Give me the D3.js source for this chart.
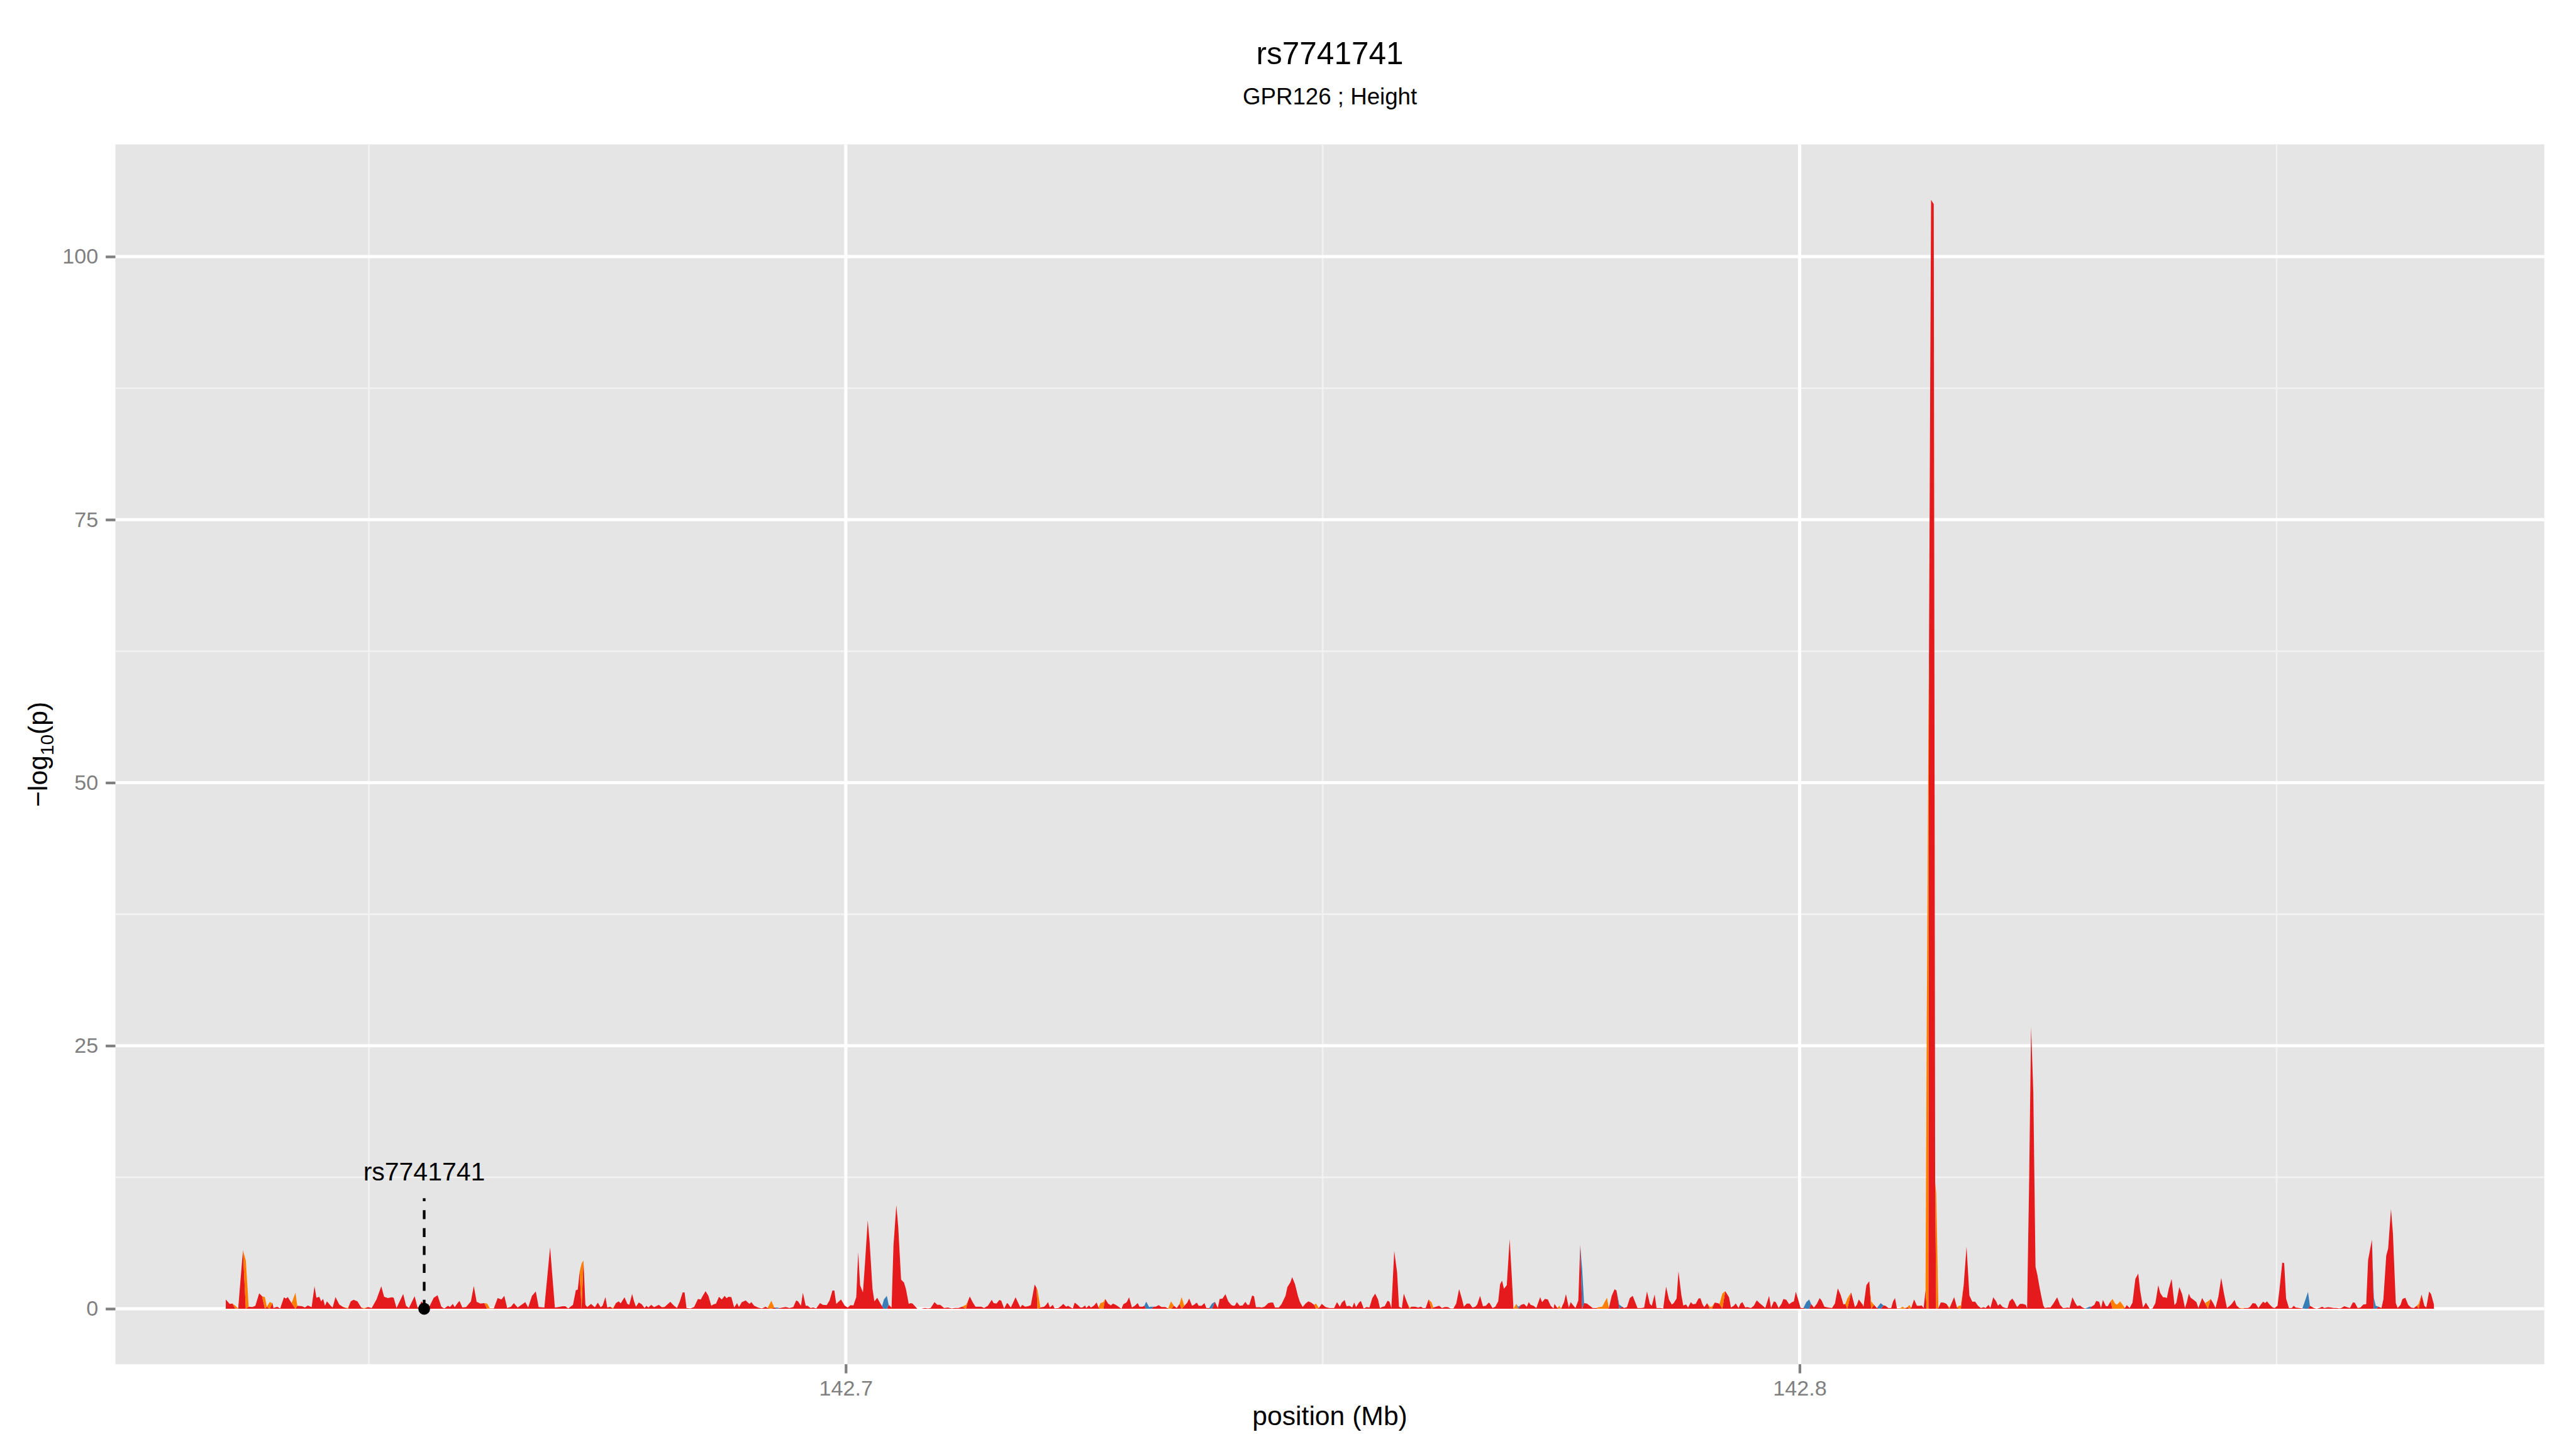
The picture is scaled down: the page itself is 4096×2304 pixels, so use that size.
<!DOCTYPE html>
<html>
<head>
<meta charset="utf-8">
<script src="https://cdn.jsdelivr.net/npm/d3@7"></script>
<style>
  body { margin: 0; background: #fff; }
  svg { display: block; }
</style>
</head>
<body>
<div id="chart"></div>
<script>
// ---- data ----
const plotTitle = 'rs7741741';
const plotSubtitle = 'GPR126 ; Height';
const xLabel = 'position (Mb)';

// SNP position (Mb) and -log10(p)
const positionMb = [
  // 142.635 - 142.693
  142.6350, 142.6354, 142.6357, 142.6360, 142.6363, 142.6368, 142.6371, 142.6374, 142.6378, 142.6381,
  142.6385, 142.6388, 142.6391, 142.6393, 142.6396, 142.6399, 142.6400, 142.6404, 142.6407, 142.6411,
  142.6413, 142.6415, 142.6419, 142.6423, 142.6425, 142.6430, 142.6433, 142.6436, 142.6440, 142.6443,
  142.6445, 142.6448, 142.6450, 142.6452, 142.6454, 142.6456, 142.6460, 142.6462, 142.6465, 142.6469,
  142.6473, 142.6478, 142.6481, 142.6484, 142.6488, 142.6492, 142.6495, 142.6499, 142.6503, 142.6508,
  142.6513, 142.6516, 142.6520, 142.6524, 142.6526, 142.6529, 142.6536, 142.6539, 142.6542, 142.6548,
  142.6551, 142.6553, 142.6555, 142.6559, 142.6563, 142.6568, 142.6572, 142.6576, 142.6579, 142.6583,
  142.6585, 142.6588, 142.6590, 142.6593, 142.6595, 142.6598, 142.6602, 142.6607, 142.6610, 142.6613,
  142.6617, 142.6621, 142.6624, 142.6627, 142.6631, 142.6635, 142.6639, 142.6642, 142.6645, 142.6649,
  142.6652, 142.6656, 142.6660, 142.6664, 142.6667, 142.6671, 142.6675, 142.6678, 142.6684, 142.6690,
  142.6695, 142.6699, 142.6703, 142.6706, 142.6709, 142.6714, 142.6717, 142.6719, 142.6721, 142.6723,
  142.6725, 142.6727, 142.6729, 142.6733, 142.6735, 142.6737, 142.6740, 142.6743, 142.6745, 142.6748,
  142.6750, 142.6753, 142.6756, 142.6759, 142.6762, 142.6764, 142.6768, 142.6771, 142.6773, 142.6776,
  142.6778, 142.6780, 142.6783, 142.6786, 142.6789, 142.6791, 142.6793, 142.6796, 142.6799, 142.6802,
  142.6804, 142.6807, 142.6810, 142.6816, 142.6820, 142.6823, 142.6826, 142.6829, 142.6831, 142.6833,
  142.6837, 142.6841, 142.6845, 142.6848, 142.6850, 142.6853, 142.6856, 142.6859, 142.6861, 142.6864,
  142.6867, 142.6870, 142.6873, 142.6875, 142.6877, 142.6880, 142.6883, 142.6886, 142.6888, 142.6891,
  142.6895, 142.6899, 142.6901, 142.6904, 142.6908, 142.6912, 142.6916, 142.6918, 142.6922, 142.6925,
  142.6928,
  // 142.693 - 142.750
  142.6931, 142.6937, 142.6941, 142.6945, 142.6948, 142.6950, 142.6953, 142.6955, 142.6958, 142.6960,
  142.6963, 142.6966, 142.6969, 142.6973, 142.6976, 142.6980, 142.6983, 142.6986, 142.6988, 142.6990,
  142.6995, 142.6999, 142.7002, 142.7005, 142.7008, 142.7011, 142.7013, 142.7015, 142.7018, 142.7020,
  142.7023, 142.7025, 142.7028, 142.7030, 142.7033, 142.7036, 142.7038, 142.7040, 142.7043, 142.7045,
  142.7048, 142.7050, 142.7053, 142.7055, 142.7058, 142.7061, 142.7063, 142.7066, 142.7068, 142.7070,
  142.7073, 142.7075, 142.7079, 142.7083, 142.7086, 142.7089, 142.7093, 142.7096, 142.7099, 142.7103,
  142.7107, 142.7111, 142.7114, 142.7118, 142.7122, 142.7126, 142.7128, 142.7130, 142.7133, 142.7136,
  142.7139, 142.7142, 142.7145, 142.7149, 142.7153, 142.7155, 142.7158, 142.7161, 142.7163, 142.7166,
  142.7169, 142.7170, 142.7173, 142.7175, 142.7178, 142.7180, 142.7183, 142.7185, 142.7188, 142.7191,
  142.7194, 142.7198, 142.7200, 142.7201, 142.7204, 142.7208, 142.7210, 142.7212, 142.7214, 142.7217,
  142.7219, 142.7223, 142.7226, 142.7228, 142.7231, 142.7233, 142.7236, 142.7238, 142.7240, 142.7243,
  142.7246, 142.7248, 142.7251, 142.7252, 142.7255, 142.7257, 142.7260, 142.7263, 142.7265, 142.7267,
  142.7270, 142.7272, 142.7275, 142.7278, 142.7280, 142.7283, 142.7286, 142.7289, 142.7291, 142.7294,
  142.7295, 142.7297, 142.7300, 142.7303, 142.7306, 142.7308, 142.7311, 142.7313, 142.7315, 142.7318,
  142.7320, 142.7323, 142.7325, 142.7328, 142.7331, 142.7335, 142.7338, 142.7341, 142.7344, 142.7347,
  142.7350, 142.7352, 142.7355, 142.7358, 142.7360, 142.7363, 142.7365, 142.7368, 142.7370, 142.7373,
  142.7376, 142.7378, 142.7381, 142.7384, 142.7387, 142.7390, 142.7392, 142.7395, 142.7398, 142.7401,
  142.7404, 142.7406, 142.7408, 142.7410, 142.7413, 142.7416, 142.7419, 142.7421, 142.7423, 142.7426,
  142.7428, 142.7430, 142.7434, 142.7436, 142.7439, 142.7443, 142.7446, 142.7448, 142.7450, 142.7454,
  142.7457, 142.7461, 142.7463, 142.7466, 142.7468, 142.7471, 142.7474, 142.7476, 142.7479, 142.7482,
  142.7485, 142.7488, 142.7491, 142.7493, 142.7496, 142.7499, 142.7503,
  // 142.750 - 142.808
  142.7507, 142.7512, 142.7515, 142.7518, 142.7520, 142.7523, 142.7525, 142.7528, 142.7531, 142.7533,
  142.7535, 142.7538, 142.7540, 142.7543, 142.7546, 142.7549, 142.7552, 142.7555, 142.7558, 142.7560,
  142.7563, 142.7565, 142.7568, 142.7570, 142.7572, 142.7575, 142.7578, 142.7580, 142.7583, 142.7585,
  142.7588, 142.7591, 142.7593, 142.7597, 142.7600, 142.7603, 142.7605, 142.7608, 142.7611, 142.7614,
  142.7616, 142.7619, 142.7622, 142.7625, 142.7628, 142.7631, 142.7634, 142.7637, 142.7640, 142.7643,
  142.7646, 142.7648, 142.7651, 142.7654, 142.7657, 142.7660, 142.7662, 142.7665, 142.7668, 142.7671,
  142.7674, 142.7675, 142.7678, 142.7681, 142.7684, 142.7686, 142.7688, 142.7690, 142.7693, 142.7696,
  142.7698, 142.7700, 142.7703, 142.7705, 142.7708, 142.7711, 142.7714, 142.7716, 142.7718, 142.7721,
  142.7724, 142.7728, 142.7730, 142.7733, 142.7736, 142.7739, 142.7742, 142.7743, 142.7746, 142.7748,
  142.7750, 142.7753, 142.7755, 142.7758, 142.7760, 142.7763, 142.7765, 142.7768, 142.7770, 142.7772,
  142.7774, 142.7777, 142.7780, 142.7783, 142.7787, 142.7789, 142.7793, 142.7796, 142.7798, 142.7800,
  142.7803, 142.7806, 142.7808, 142.7811, 142.7814, 142.7816, 142.7819, 142.7822, 142.7825, 142.7828,
  142.7830, 142.7834, 142.7837, 142.7840, 142.7843, 142.7845, 142.7848, 142.7850, 142.7854, 142.7857,
  142.7860, 142.7863, 142.7866, 142.7868, 142.7871, 142.7873, 142.7876, 142.7878, 142.7881, 142.7883,
  142.7886, 142.7888, 142.7891, 142.7894, 142.7896, 142.7898, 142.7900, 142.7903, 142.7906, 142.7908,
  142.7911, 142.7914, 142.7916, 142.7919, 142.7922, 142.7926, 142.7928, 142.7931, 142.7933, 142.7936,
  142.7938, 142.7940, 142.7943, 142.7945, 142.7949, 142.7952, 142.7955, 142.7958, 142.7961, 142.7964,
  142.7968, 142.7970, 142.7973, 142.7975, 142.7978, 142.7981, 142.7983, 142.7986, 142.7989, 142.7992,
  142.7994, 142.7996, 142.7998, 142.8001, 142.8004, 142.8007, 142.8010, 142.8012, 142.8015, 142.8018,
  142.8021, 142.8023, 142.8026, 142.8030, 142.8034, 142.8037, 142.8040, 142.8043, 142.8046, 142.8048,
  142.8050, 142.8054, 142.8058, 142.8060, 142.8062, 142.8066, 142.8067, 142.8070, 142.8073, 142.8075,
  142.8078, 142.8081,
  // 142.808 - 142.867
  142.8085, 142.8088, 142.8090, 142.8093, 142.8096, 142.8098, 142.8100, 142.8102, 142.8105, 142.8108,
  142.8110, 142.8113, 142.8115, 142.8117, 142.8120, 142.8123, 142.8126, 142.8128, 142.8130, 142.8132,
  142.81333, 142.81342, 142.8135, 142.81356, 142.81378, 142.81406, 142.81421, 142.81432, 142.81455, 142.8148,
  142.8151, 142.8154, 142.8157, 142.8159, 142.8162, 142.8165, 142.8167, 142.8169, 142.8172, 142.8175,
  142.8178, 142.8181, 142.8184, 142.8187, 142.8190, 142.8193, 142.8195, 142.8198, 142.8200, 142.8203,
  142.8206, 142.8208, 142.8210, 142.8213, 142.8216, 142.8218, 142.8220, 142.8223, 142.8225, 142.8228,
  142.8231, 142.8234, 142.8237, 142.82385, 142.82406, 142.82427, 142.8245, 142.82473, 142.82493, 142.82516,
  142.82538, 142.82555, 142.8257, 142.8260, 142.8263, 142.8266, 142.8270, 142.8273, 142.8276, 142.8278,
  142.8281, 142.8283, 142.8286, 142.8289, 142.8291, 142.8294, 142.8296, 142.8299, 142.8302, 142.8304,
  142.8306, 142.8309, 142.8311, 142.8314, 142.8316, 142.8318, 142.8321, 142.8323, 142.8326, 142.8328,
  142.8331, 142.8333, 142.8336, 142.8338, 142.8341, 142.8343, 142.8346, 142.8349, 142.8352, 142.8355,
  142.8357, 142.8360, 142.8363, 142.8367, 142.8370, 142.8373, 142.8376, 142.8378, 142.8381, 142.8383,
  142.8385, 142.8387, 142.8390, 142.8393, 142.8395, 142.8398, 142.8401, 142.8404, 142.8406, 142.8408,
  142.8410, 142.8413, 142.8416, 142.8418, 142.8420, 142.8422, 142.8425, 142.8428, 142.8431, 142.8434,
  142.8436, 142.8439, 142.8442, 142.8445, 142.8448, 142.8451, 142.8453, 142.8456, 142.8458, 142.8461,
  142.8464, 142.8467, 142.8470, 142.8472, 142.8475, 142.8478, 142.8481, 142.8484, 142.8486, 142.8488,
  142.8490, 142.8493, 142.8496, 142.8498, 142.8501, 142.8503, 142.8506, 142.8508, 142.8510, 142.8513,
  142.8516, 142.8518, 142.8520, 142.8524, 142.8527, 142.8530, 142.8533, 142.8535, 142.8539, 142.8542,
  142.8545, 142.8548, 142.8550, 142.8554, 142.8557, 142.8560, 142.8563, 142.8566, 142.8568, 142.8571,
  142.8574, 142.8577, 142.8580, 142.8582, 142.8585, 142.8588, 142.8591, 142.8594, 142.8596, 142.8600,
  142.8602, 142.8604, 142.8607, 142.8610, 142.8612, 142.8615, 142.8617, 142.8620, 142.8622, 142.8625,
  142.8627, 142.8630, 142.8632, 142.8635, 142.8638, 142.8641, 142.8644, 142.8647, 142.8649, 142.8652,
  142.8655, 142.8657, 142.8660, 142.8662, 142.8665
];

const logP = [
  // 142.635 - 142.693
  0.88, 0.46, 0.5, 0.29, 0.03, 5.56, 4.6, 0.2, 0.17, 0.29,
  1.46, 1.2, 1.1, 0.2, 0.63, 0.54, 0.07, 0.2, 0.03, 1.09,
  0.97, 1.1, 0.54, 1.53, 0.29, 0.24, 0.12, 0.32, 0.15, 2.13,
  1.05, 1.14, 0.71, 0.94, 0.29, 0.71, 0.29, 0.12, 1.1, 0.41,
  0.17, 0.07, 0.71, 0.85, 0.71, 0.12, 0.07, 0.17, 0.07, 0.88,
  2.13, 1.14, 1.02, 1.09, 1.05, 0.07, 1.4, 0.29, 0.07, 1.19,
  0.12, 0.2, 0.71, 0.29, 0.12, 1.05, 1.28, 0.2, 0.03, 0.29,
  0.17, 0.46, 0.15, 0.54, 0.75, 0.12, 0.17, 0.71, 2.16, 0.66,
  0.49, 0.54, 0.49, 0.03, 0.03, 1.02, 0.88, 1.22, 0.07, 0.2,
  0.54, 0.12, 0.37, 0.63, 0.12, 1.22, 1.65, 0.17, 0.12, 5.85,
  0.12, 0.17, 0.24, 0.24, 0.03, 0.37, 1.77, 1.82, 3.52, 4.3,
  4.59, 0.37, 0.17, 0.46, 0.29, 0.15, 0.58, 0.15, 0.29, 1.1,
  0.12, 0.2, 0.07, 0.54, 0.71, 0.51, 1.09, 0.46, 0.37, 1.4,
  0.71, 0.2, 0.6, 0.43, 0.07, 0.29, 0.12, 0.37, 0.15, 0.29,
  0.37, 0.15, 0.17, 0.66, 0.29, 0.07, 0.71, 1.56, 1.56, 0.07,
  0.03, 0.17, 0.92, 0.88, 1.22, 1.68, 1.22, 0.29, 0.41, 0.49,
  1.14, 0.88, 1.22, 1.0, 1.14, 1.1, 0.12, 0.54, 0.17, 0.63,
  0.8, 0.46, 0.63, 0.29, 0.12, 0.03, 0.2, 0.07, 0.77, 0.12,
  0.12,
  // 142.693 - 142.750
  0.08, 0.17, 0.08, 0.17, 0.8, 0.71, 0.29, 1.53, 0.29, 0.29,
  0.07, 0.12, 0.03, 0.54, 0.37, 0.34, 0.8, 1.73, 1.73, 0.46,
  0.88, 0.29, 0.12, 0.34, 0.32, 1.1, 5.39, 2.24, 1.56, 4.12,
  8.4, 6.33, 1.9, 0.71, 1.05, 0.54, 0.24, 0.88, 1.22, 0.37,
  0.12, 5.99, 9.85, 7.77, 2.76, 2.5, 1.9, 0.46, 0.54, 0.49,
  0.2, 0, 0, 0.08, 0.03, 0.07, 0.63, 0.37, 0.37, 0.07,
  0.12, 0.03, 0.07, 0.07, 0.2, 0.37, 0.71, 1.17, 0.63, 0.2,
  0.2, 0.2, 0.07, 0.29, 0.85, 0.54, 0.49, 0.83, 0.77, 0.03,
  0.54, 0.49, 0.12, 0.49, 1.09, 0.71, 0.12, 0.37, 0.2, 0.24,
  0.34, 2.3, 1.99, 1.8, 0.12, 0.2, 0.37, 0.63, 0.12, 0.37,
  0.03, 0.07, 0.29, 0.46, 0.2, 0.29, 0.12, 0.03, 0.58, 0.37,
  0.12, 0.12, 0.32, 0.07, 0.32, 0.12, 0.29, 0.6, 0.12, 0.54,
  0.63, 0.92, 0.49, 0.32, 0.49, 0.37, 0.2, 0, 0.43, 0.58,
  0.71, 1.09, 0.12, 0.29, 0.54, 0.2, 0.2, 0.29, 0.68, 0.17,
  0.2, 0.2, 0.2, 0.34, 0.17, 0.17, 0.03, 0.71, 0.29, 0.07,
  0.46, 1.1, 0.29, 0.58, 0.97, 0.29, 0.37, 0.58, 0.29, 0.29,
  0.54, 0.07, 0.07, 0.49, 0.66, 0.07, 0.92, 0.97, 1.39, 0.71,
  0.37, 0.29, 0.32, 0.63, 0.29, 0.32, 0.66, 0.37, 0.37, 1.26,
  1.19, 0.15, 0.15, 0.12, 0.2, 0.54, 0.6, 0.58, 0.12, 0.12,
  0.46, 1.22, 2.07, 2.5, 3.01, 2.33, 1.22, 0.68, 0.17, 0.49,
  0.71, 0.58, 0.37, 0.49, 0.07, 0.46, 0.17,
  // 142.750 - 142.808
  0.07, 0.07, 0.63, 0.2, 0.58, 0.83, 0.24, 0.29, 0.12, 0.6,
  0.15, 0.58, 0.75, 0.03, 0.17, 0.12, 1.02, 1.43, 0.88, 0.08,
  0.2, 0.24, 0.77, 0.68, 0.07, 5.48, 3.44, 0.2, 0.07, 1.43,
  0.71, 0.12, 0.2, 0.2, 0.12, 0.2, 0.07, 0.07, 0.88, 0.63,
  0.12, 0.2, 0.29, 0.08, 0.17, 0.17, 0.03, 0.03, 0.49, 1.87,
  0.92, 0.2, 0.49, 0.49, 0.12, 0.2, 0.41, 1.22, 0.24, 0.29,
  0.58, 0.54, 0.07, 0.2, 0.71, 2.33, 2.67, 1.9, 2.24, 6.62,
  3.44, 0.03, 0.46, 0.2, 0.37, 0.46, 0.2, 0.63, 0.37, 0.29,
  0.07, 1.1, 0.63, 0.94, 0.88, 0.29, 0.03, 0.46, 0.07, 0.29,
  0.03, 0.63, 1.39, 0.12, 0.63, 0.29, 0.07, 0.8, 6.07, 3.78,
  0.54, 0.49, 0.29, 0.07, 0.07, 0.15, 0.2, 0.71, 1.05, 0.07,
  1.22, 1.85, 1.73, 0.37, 0.2, 0.07, 0.17, 1.02, 1.22, 0.54,
  0.07, 0.07, 0.12, 1.65, 0.46, 0.29, 1.36, 0.07, 0.07, 0.03,
  2.11, 0.88, 0.41, 0.54, 0.97, 3.55, 1.31, 0.32, 0.41, 0.12,
  0.63, 0.43, 0.46, 0.97, 1.0, 0.46, 0.15, 0.54, 0.2, 0.2,
  0.58, 0.54, 0.46, 1.43, 1.68, 1.09, 0.12, 0.29, 0.51, 0.07,
  0.49, 0.63, 0.12, 0.17, 0.07, 0.29, 0.8, 0.54, 0.32, 0.07,
  1.22, 0.07, 0.71, 0.63, 0.07, 0.46, 0.92, 0.85, 0.43, 0.63,
  0.71, 1.62, 1.02, 0.07, 0.07, 0.63, 0.88, 0.46, 0.12, 0.46,
  1.02, 0.8, 0.2, 0.12, 0.07, 0.49, 1.94, 1.31, 0.41, 0.46,
  0.97, 1.56, 0.15, 0.37, 0.88, 0.41, 0.2, 2.24, 2.62, 0.71,
  0.37, 0.07,
  // 142.808 - 142.867
  0.54, 0.32, 0.29, 0.07, 0.07, 0.71, 1.02, 0.03, 0.03, 0.2,
  0.07, 0.15, 0.37, 0.07, 0.88, 0.29, 0.29, 0.32, 0.07, 1.73,
  28, 41, 55, 62, 105.4, 105.0, 12, 11, 0.07, 0.6,
  0.58, 0.46, 0.12, 0.46, 1.1, 0.12, 0.29, 0.32, 2.24, 5.9,
  1.26, 0.68, 0.68, 0.29, 0.07, 0.15, 0.07, 0.37, 0.07, 1.09,
  0.71, 0.29, 0.46, 0.17, 0.07, 0.07, 0.71, 0.97, 0.71, 0.17,
  0.46, 0.46, 0.37, 0.05, 12, 26.8, 20.5, 4, 3.2, 2.0,
  1.0, 0.3, 0.07, 0.12, 0.12, 0.49, 1.09, 0.37, 0.07, 0.07,
  0.12, 0.07, 1.09, 0.54, 0.26, 0.32, 0.15, 0.03, 0.12, 0.2,
  0.2, 0.37, 0.75, 0.66, 0.08, 0.83, 0.26, 0.24, 0.71, 0.92,
  0.46, 0.41, 0.71, 0.46, 0.07, 0.34, 0.07, 0.58, 2.84, 3.35,
  1.73, 0.12, 0.58, 0, 0.03, 0.54, 2.24, 1.51, 1.09, 1.09,
  1.02, 1.9, 2.84, 0.34, 0.58, 2.07, 1.39, 0.07, 0.63, 1.43,
  1.05, 0.85, 0.63, 0.07, 0.54, 1.02, 0.54, 0.71, 0.92, 0.46,
  0.07, 1.14, 2.93, 1.39, 0.07, 0.29, 0.46, 0.83, 0.32, 0.07,
  0.07, 0.07, 0.08, 0.17, 0.54, 0.49, 0.07, 0.46, 0.68, 0.54,
  0.71, 0.37, 0.12, 0.07, 0.29, 1.77, 4.4, 4.34, 0.97, 0.07,
  0.07, 0.29, 0.12, 0.07, 0.03, 0.8, 1.6, 0.29, 0.07, 0,
  0.07, 0.2, 0.07, 0.15, 0.12, 0.07, 0.07, 0.03, 0.07, 0.24,
  0.15, 0.07, 0.6, 0.58, 0.07, 0.12, 0.41, 0.43, 4.63, 6.58,
  1.05, 0.29, 0.2, 0.07, 0.88, 5.05, 5.73, 9.47, 7.18, 0.54,
  0.07, 0.37, 0.92, 1.05, 0.37, 0.12, 0.07, 0.29, 0.46, 1.34,
  0.29, 0.12, 1.65, 1.39, 0.41
];

// SNPs that fall in the second and third class (all others are in the first)
const class2Positions = [
  142.6360, 142.6371, 142.6391, 142.6396, 142.6423, 142.6478, 142.6495, 142.6624, 142.6723, 142.6756,
  142.6922, 142.7126, 142.7201, 142.7267, 142.7270, 142.7341, 142.7352, 142.7493, 142.7591, 142.7614,
  142.7703, 142.7748, 142.7789, 142.7793, 142.7796, 142.7798, 142.7906, 142.7908, 142.7919, 142.8050,
  142.8075, 142.8108, 142.8110, 142.8115, 142.81333, 142.81342, 142.8135, 142.81432, 142.8157, 142.8167,
  142.8169, 142.8328, 142.8331, 142.8333, 142.8336, 142.8338, 142.8428, 142.8464, 142.8649
];
const class3Positions = [
  142.6928, 142.7040, 142.7043, 142.7315, 142.7318, 142.7320, 142.7384, 142.7705, 142.7772, 142.7811,
  142.8007, 142.8010, 142.8085, 142.8302, 142.8304, 142.8530, 142.8533, 142.8602, 142.8604
];
const classKeys = ['class1', 'class2', 'class3'];

// highlighted SNP
const leadSnpName = 'rs7741741';
const leadSnpPos = 142.6558;
const leadSnpLogP = 0;

// ticks
const xMajorTicks = [142.7, 142.8];
const xMinorTicks = [142.65, 142.75, 142.85];
const yMajorTicks = [0, 25, 50, 75, 100];
const yMinorTicks = [12.5, 37.5, 62.5, 87.5];

// ---- layout (drawn in the 4800x2700 frame, shown at 4096x2304) ----
const W = 4800, H = 2700;
const panel = { left: 215, right: 4741, top: 269, bottom: 2542 };
const FONT = '"Liberation Sans", Arial, Helvetica, sans-serif';
const fills = { class1: '#E41A1C', class2: '#FF7F00', class3: '#377EB8' };
const axisGrey = '#7F7F7F';

if (positionMb.length !== logP.length) console.error('length mismatch', positionMb.length, logP.length);

const svg = d3.select('#chart')
  .append('svg')
  .attr('width', 4096)
  .attr('height', 2304)
  .attr('viewBox', `0 0 ${W} ${H}`)
  .attr('font-family', FONT);

svg.append('rect').attr('width', W).attr('height', H).attr('fill', '#fff');

// scales with ggplot-style 5% expansion
const xExt = d3.extent(positionMb);
const xPad = (xExt[1] - xExt[0]) * 0.05;
const xScale = d3.scaleLinear()
  .domain([xExt[0] - xPad, xExt[1] + xPad])
  .range([panel.left, panel.right]);

const yMax = d3.max(logP);
const yPad = yMax * 0.05;
const yScale = d3.scaleLinear()
  .domain([-yPad, yMax + yPad])
  .range([panel.bottom, panel.top]);

// panel + grid
svg.append('rect')
  .attr('x', panel.left).attr('y', panel.top)
  .attr('width', panel.right - panel.left)
  .attr('height', panel.bottom - panel.top)
  .attr('fill', '#E5E5E5');

const grid = svg.append('g');
grid.selectAll('.xminor').data(xMinorTicks).enter().append('line')
  .attr('x1', d => xScale(d)).attr('x2', d => xScale(d))
  .attr('y1', panel.top).attr('y2', panel.bottom)
  .attr('stroke', '#F2F2F2').attr('stroke-width', 3);
grid.selectAll('.yminor').data(yMinorTicks).enter().append('line')
  .attr('y1', d => yScale(d)).attr('y2', d => yScale(d))
  .attr('x1', panel.left).attr('x2', panel.right)
  .attr('stroke', '#F2F2F2').attr('stroke-width', 3);
grid.selectAll('.xmajor').data(xMajorTicks).enter().append('line')
  .attr('x1', d => xScale(d)).attr('x2', d => xScale(d))
  .attr('y1', panel.top).attr('y2', panel.bottom)
  .attr('stroke', '#fff').attr('stroke-width', 6);
grid.selectAll('.ymajor').data(yMajorTicks).enter().append('line')
  .attr('y1', d => yScale(d)).attr('y2', d => yScale(d))
  .attr('x1', panel.left).attr('x2', panel.right)
  .attr('stroke', '#fff').attr('stroke-width', 6);

// stacked areas, one series per class (zero where a SNP is in another class)
const c2 = new Set(class2Positions.map(p => p.toFixed(5)));
const c3 = new Set(class3Positions.map(p => p.toFixed(5)));
const rows = positionMb.map((p, i) => {
  const k = p.toFixed(5);
  const cls = c2.has(k) ? 'class2' : c3.has(k) ? 'class3' : 'class1';
  const row = { pos: p, class1: 0, class2: 0, class3: 0 };
  row[cls] = logP[i];
  return row;
}).sort((a, b) => a.pos - b.pos);

const series = d3.stack().keys(classKeys)(rows);
const area = d3.area()
  .x(d => xScale(d.data.pos))
  .y0(d => yScale(d[0]))
  .y1(d => yScale(d[1]));

svg.append('g')
  .selectAll('path')
  .data(series)
  .enter()
  .append('path')
  .attr('fill', d => fills[d.key])
  .attr('d', area);

// axes
const xAxis = d3.axisBottom(xScale)
  .tickValues(xMajorTicks)
  .tickFormat(d3.format('.1f'))
  .tickSize(17)
  .tickPadding(13);
svg.append('g')
  .attr('transform', `translate(0,${panel.bottom})`)
  .call(xAxis)
  .attr('font-family', FONT)
  .attr('font-size', 40)
  .call(g => g.select('.domain').remove())
  .call(g => g.selectAll('.tick line').attr('stroke', axisGrey).attr('stroke-width', 5))
  .call(g => g.selectAll('.tick text').attr('fill', axisGrey));

const yAxis = d3.axisLeft(yScale)
  .tickValues(yMajorTicks)
  .tickSize(18)
  .tickPadding(14);
svg.append('g')
  .attr('transform', `translate(${panel.left},0)`)
  .call(yAxis)
  .attr('font-family', FONT)
  .attr('font-size', 40)
  .call(g => g.select('.domain').remove())
  .call(g => g.selectAll('.tick line').attr('stroke', axisGrey).attr('stroke-width', 5))
  .call(g => g.selectAll('.tick text').attr('fill', axisGrey));

// axis titles
const midX = (panel.left + panel.right) / 2;
const midY = (panel.top + panel.bottom) / 2;
svg.append('text')
  .attr('x', midX).attr('y', 2655)
  .attr('text-anchor', 'middle')
  .attr('font-size', 50)
  .attr('fill', '#000')
  .text(xLabel);

const yTitle = svg.append('text')
  .attr('transform', `translate(88,${midY}) rotate(-90)`)
  .attr('text-anchor', 'middle')
  .attr('font-size', 50)
  .attr('fill', '#000');
yTitle.append('tspan').text('\u2212log');
yTitle.append('tspan').attr('font-size', 35).attr('dy', 12).text('10');
yTitle.append('tspan').attr('dy', -12).text('(p)');

// titles
svg.append('text')
  .attr('x', midX).attr('y', 120)
  .attr('text-anchor', 'middle')
  .attr('font-size', 58)
  .attr('fill', '#000')
  .text(plotTitle);
svg.append('text')
  .attr('x', midX).attr('y', 194)
  .attr('text-anchor', 'middle')
  .attr('font-size', 43)
  .attr('fill', '#000')
  .text(plotSubtitle);

// lead SNP annotation
const lx = xScale(leadSnpPos);
svg.append('line')
  .attr('x1', lx).attr('x2', lx)
  .attr('y1', yScale(leadSnpLogP)).attr('y2', yScale(10.5))
  .attr('stroke', '#000')
  .attr('stroke-width', 5)
  .attr('stroke-dasharray', '16.7,16.7');
svg.append('circle')
  .attr('cx', lx).attr('cy', yScale(leadSnpLogP))
  .attr('r', 11)
  .attr('fill', '#000');
svg.append('text')
  .attr('x', lx).attr('y', yScale(12.2))
  .attr('text-anchor', 'middle')
  .attr('font-size', 48)
  .attr('fill', '#000')
  .text(leadSnpName);
</script>
</body>
</html>
